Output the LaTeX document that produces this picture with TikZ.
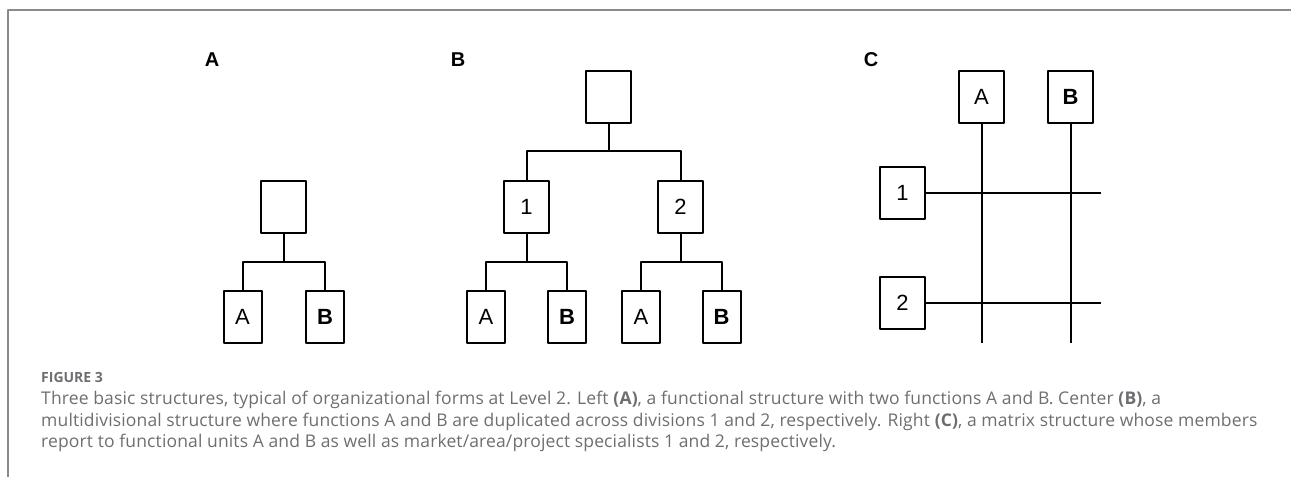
\documentclass[tikz,border=0pt]{standalone}
\usepackage{fontspec}
\setmainfont{Open Sans}
\newfontfamily\capfont[LetterSpace=0.8]{Open Sans}
\newfontfamily\boxfont{Liberation Sans}
\usetikzlibrary{positioning}
\definecolor{capgray}{HTML}{6D6E71}
\definecolor{framegray}{HTML}{8A8A8A}
\tikzset{
	unit/.style={draw, line width=2pt, inner sep=0pt, minimum width=45pt, minimum height=52pt, font=\boxfont\fontsize{22}{22}\selectfont},
	leaf/.style={unit, minimum width=38pt},
	link/.style={line width=2pt},
	panel/.style={font=\boxfont\bfseries\fontsize{20}{20}\selectfont},
	capline/.style={anchor=base west, inner sep=0pt, text=capgray, font=\capfont\fontsize{17.5}{18}\selectfont}
}
\begin{document}
\begin{tikzpicture}[x=1pt, y=-1pt, line join=round, line cap=butt]
		\def\W{1291} \def\H{477} % khung
		\useasboundingbox (0,0) rectangle (\W,\H);
		\draw[framegray, line width=1.2pt] (8,\H)--(8,10)--(\W,10);
		% Hình A
		\node[panel] (labA) at (212,60) {A};
		\node[unit] (topA) at (283.5,207) {};
		\node[leaf] (fa) at (242.5,317) {A};
		\node[leaf] (fb) at (325,317) {\textbf{B}};
		\coordinate (jA) at (283.5,262);
		\draw[link] (topA)--(jA);
		\draw[link] (fa) |- (jA) -| (fb);
		% Hình B
		\node[panel] (labB) at (458,60) {B};
		\node[unit] (topB) at (608.5,97) {};
		\node[unit] (d1) at (526.5,207) {1};
		\node[unit] (d2) at (680.5,207) {2};
		\node[leaf] (d1a) at (486,317) {A};
		\node[leaf] (d1b) at (567,317) {\textbf{B}};
		\node[leaf] (d2a) at (641,317) {A};
		\node[leaf] (d2b) at (721.5,317) {\textbf{B}};
		\coordinate (jB) at (608.5,151);
		\coordinate (j1) at (526.5,262);
		\coordinate (j2) at (680.5,262);
		\draw[link] (topB)--(jB);
		\draw[link] (d1) |- (jB) -| (d2);
		\draw[link] (d1)--(j1); \draw[link] (d2)--(j2);
		\draw[link] (d1a) |- (j1) -| (d1b);
		\draw[link] (d2a) |- (j2) -| (d2b);
		% Hình C
		\node[panel] (labC) at (871,60) {C};
		\node[unit] (mA) at (981.5,97) {A};
		\node[unit] (mB) at (1070.5,97) {\textbf{B}};
		\node[unit] (m1) at (902.5,193) {1};
		\node[unit] (m2) at (902.5,303) {2};
		\coordinate (eA) at (981.5,343);
		\coordinate (eB) at (1070.5,343);
		\coordinate (e1) at (1101,193);
		\coordinate (e2) at (1101,303);
		\draw[link] (mA)--(eA); \draw[link] (mB)--(eB);
		\draw[link] (m1)--(e1); \draw[link] (m2)--(e2);
		% Chú thích
		\node[capline, font=\fontsize{14}{15}\selectfont\bfseries] (fig) at (41,382) {FIGURE 3};
		\node[capline] (cap1) at (41,404) {Three basic structures, typical of organizational forms at Level 2. Left \textbf{(A)}, a functional structure with two functions A and B. Center \textbf{(B)}, a};
		\node[capline] (cap2) at (41,426) {multidivisional structure where functions A and B are duplicated across divisions 1 and 2, respectively. Right \textbf{(C)}, a matrix structure whose members};
		\node[capline] (cap3) at (41,447) {report to functional units A and B as well as market/area/project specialists 1 and 2, respectively.};
\end{tikzpicture}
\end{document}
